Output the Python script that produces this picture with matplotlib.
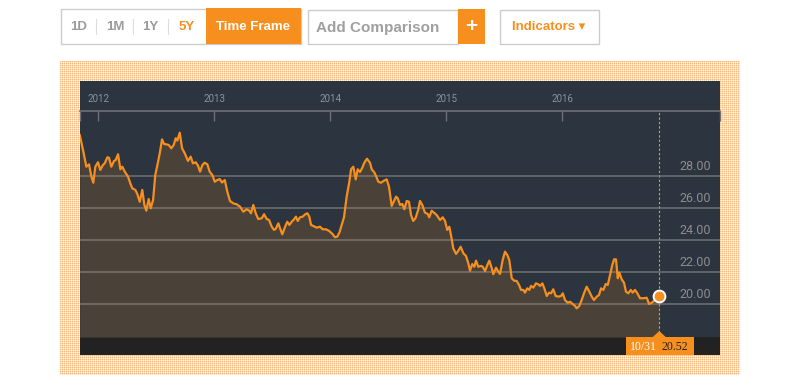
import numpy as np
import matplotlib
matplotlib.use('Agg')
import matplotlib.pyplot as plt
import matplotlib.transforms as mtransforms
from matplotlib.patches import Rectangle, Polygon

# price history (decimal year, price)
years = [
    2011.840, 2011.868, 2011.897, 2011.920, 2011.940, 2011.957, 2011.974, 2011.997,
    2012.017, 2012.040, 2012.055, 2012.078, 2012.092, 2012.112, 2012.135, 2012.150,
    2012.170, 2012.190, 2012.207, 2012.228, 2012.256, 2012.276, 2012.293, 2012.319,
    2012.336, 2012.357, 2012.379, 2012.397, 2012.414, 2012.434, 2012.452, 2012.472,
    2012.491, 2012.515, 2012.532, 2012.549, 2012.567, 2012.586, 2012.607, 2012.629,
    2012.650, 2012.667, 2012.681, 2012.702, 2012.722, 2012.745, 2012.773, 2012.796,
    2012.816, 2012.840, 2012.860, 2012.877, 2012.897, 2012.917, 2012.940, 2012.960,
    2012.983, 2013.004, 2013.026, 2013.047, 2013.066, 2013.090, 2013.112, 2013.135,
    2013.164, 2013.193, 2013.222, 2013.250, 2013.279, 2013.302, 2013.316, 2013.336,
    2013.357, 2013.379, 2013.409, 2013.429, 2013.452, 2013.472, 2013.495, 2013.515,
    2013.529, 2013.552, 2013.567, 2013.586, 2013.610, 2013.629, 2013.647, 2013.667,
    2013.687, 2013.704, 2013.719, 2013.739, 2013.762, 2013.784, 2013.802, 2013.819,
    2013.834, 2013.853, 2013.883, 2013.911, 2013.934, 2013.963, 2013.991, 2014.021,
    2014.040, 2014.060, 2014.078, 2014.098, 2014.118, 2014.141, 2014.164, 2014.179,
    2014.198, 2014.219, 2014.236, 2014.256, 2014.276, 2014.293, 2014.316, 2014.342,
    2014.357, 2014.379, 2014.394, 2014.414, 2014.437, 2014.463, 2014.486, 2014.506,
    2014.529, 2014.567, 2014.581, 2014.601, 2014.621, 2014.638, 2014.659, 2014.678,
    2014.696, 2014.715, 2014.736, 2014.759, 2014.773, 2014.793, 2014.816, 2014.840,
    2014.853, 2014.874, 2014.894, 2014.917, 2014.946, 2014.969, 2014.989, 2015.008,
    2015.026, 2015.047, 2015.060, 2015.084, 2015.104, 2015.124, 2015.147, 2015.170,
    2015.190, 2015.204, 2015.224, 2015.242, 2015.256, 2015.276, 2015.297, 2015.314,
    2015.334, 2015.354, 2015.371, 2015.392, 2015.405, 2015.429, 2015.448, 2015.463,
    2015.486, 2015.506, 2015.526, 2015.543, 2015.564, 2015.584, 2015.607, 2015.627,
    2015.644, 2015.664, 2015.678, 2015.698, 2015.716, 2015.730, 2015.750, 2015.773,
    2015.793, 2015.808, 2015.828, 2015.845, 2015.866, 2015.885, 2015.903, 2015.922,
    2015.943, 2015.966, 2015.989, 2016.004, 2016.023, 2016.047, 2016.066, 2016.090,
    2016.110, 2016.124, 2016.147, 2016.167, 2016.187, 2016.210, 2016.233, 2016.254,
    2016.273, 2016.297, 2016.316, 2016.334, 2016.354, 2016.374, 2016.392, 2016.411,
    2016.431, 2016.446, 2016.463, 2016.478, 2016.492, 2016.512, 2016.532, 2016.549,
    2016.569, 2016.590, 2016.607, 2016.627, 2016.647, 2016.670, 2016.698, 2016.728,
    2016.748, 2016.771, 2016.793, 2016.814, 2016.836,
]
prices = [
    30.56, 29.63, 28.58, 28.73, 27.96, 27.58, 28.58, 28.86,
    28.38, 28.69, 28.79, 29.17, 29.14, 28.58, 28.94, 29.00,
    29.36, 28.42, 28.58, 28.27, 27.96, 27.54, 27.23, 27.13,
    26.88, 26.39, 27.13, 26.19, 25.83, 26.56, 25.98, 26.50,
    28.06, 28.89, 29.52, 30.29, 30.00, 29.98, 29.94, 29.73,
    29.94, 30.36, 30.21, 30.71, 29.73, 29.42, 28.94, 29.21,
    28.79, 28.86, 28.64, 28.27, 28.69, 28.83, 28.73, 28.27,
    28.06, 27.64, 27.75, 27.81, 27.59, 27.75, 27.02, 26.44,
    26.29, 26.23, 26.08, 25.77, 25.92, 25.83, 25.67, 26.19,
    25.67, 25.31, 25.36, 25.61, 25.31, 25.25, 24.83, 24.63,
    24.69, 25.04, 24.73, 24.36, 24.83, 25.14, 24.94, 25.14,
    25.29, 25.46, 25.19, 25.42, 25.46, 25.61, 25.67, 25.46,
    24.94, 24.88, 24.77, 24.83, 24.67, 24.67, 24.56, 24.36,
    24.17, 24.21, 24.46, 24.94, 25.42, 26.71, 27.64, 28.42,
    28.58, 27.79, 28.42, 28.25, 28.52, 28.83, 29.08, 28.83,
    28.42, 28.23, 28.00, 27.64, 27.58, 27.71, 27.79, 27.33,
    26.13, 26.71, 26.61, 26.19, 26.25, 25.92, 26.44, 26.39,
    25.56, 25.19, 25.39, 25.92, 26.44, 26.19, 25.71, 25.63,
    25.42, 25.83, 25.71, 25.56, 25.25, 25.42, 25.19, 24.63,
    24.83, 24.04, 23.48, 23.13, 23.33, 23.58, 23.17, 23.00,
    22.54, 22.08, 22.50, 22.33, 22.71, 22.33, 22.38, 22.33,
    22.06, 22.44, 22.71, 22.23, 21.86, 22.27, 22.02, 21.88,
    22.75, 23.27, 23.06, 22.75, 21.61, 21.46, 21.44, 21.19,
    20.88, 20.88, 20.71, 20.98, 20.88, 21.13, 21.02, 21.29,
    21.23, 21.13, 21.29, 20.98, 20.50, 20.71, 20.67, 20.92,
    20.50, 20.46, 20.50, 20.67, 20.25, 20.08, 20.14, 20.00,
    19.88, 19.73, 19.88, 20.25, 20.67, 21.08, 20.77, 20.46,
    20.25, 20.46, 20.56, 20.98, 20.88, 21.25, 21.19, 21.81,
    22.44, 22.79, 22.79, 21.61, 21.96, 21.54, 21.33, 20.77,
    20.67, 20.88, 20.71, 20.88, 20.67, 20.36, 20.36, 20.39,
    20.00, 20.08, 20.21, 20.29, 20.52,
]
year_ticks = [2012, 2013, 2014, 2015, 2016]
price_ticks = [20, 22, 24, 26, 28]
last_date = '10/31'
ranges = ['1D', '1M', '1Y', '5Y']
active_range = '5Y'

ORANGE = '#f78f1e'
PANEL = '#2b343f'
FILL = '#4a4239'
BAND = '#222222'
UI = ['Liberation Sans', 'DejaVu Sans']

fig = plt.figure(figsize=(8, 3.86), dpi=100)

# background layer in pixel coords
bg = fig.add_axes([0, 0, 1, 1])
bg.axis('off')
h, w = 314, 680
yy, xx = np.mgrid[0:h, 0:w]
pat = np.ones((h, w, 3))
one = (xx % 2 == 0) ^ (yy % 2 == 0)
both = (xx % 2 == 0) & (yy % 2 == 0)
pat[one] = np.array([253, 216, 178]) / 255
pat[both] = np.array([250, 188, 128]) / 255
bg.imshow(pat, extent=(60, 740, 375, 61), interpolation='nearest', aspect='auto')
bg.add_patch(Rectangle((80, 81), 640, 274, color=PANEL, lw=0))
bg.add_patch(Rectangle((80, 337), 640, 18, color=BAND, lw=0))
bg.set_xlim(0, 800)
bg.set_ylim(386, 0)

# header controls
bg.add_patch(Rectangle((60.5, 8.5), 240, 35.5, fill=False, ec='#cccccc', lw=1))
bg.add_patch(Rectangle((206, 8), 95, 36, color=ORANGE, lw=0))
bg.text(253.5, 26.5, 'Time Frame', color='white', fontsize=9.5, fontweight='bold',
        family=UI, ha='center', va='center')
for lab, cx in zip(ranges, [78.5, 115, 150.5, 187]):
    col = ORANGE if lab == active_range else '#9b9b9b'
    bg.text(cx, 26.5, lab, color=col, fontsize=9.5, fontweight='bold', family=UI,
            ha='center', va='center')
for sx in [95.5, 132.5, 167.5]:
    bg.plot([sx, sx], [19, 34], color='#dddddd', lw=0.8)
bg.add_patch(Rectangle((307.5, 9.5), 150, 34.5, fill=False, ec='#cccccc', lw=1))
bg.add_patch(Rectangle((458, 9), 27, 35, color=ORANGE, lw=0))
bg.text(316, 28, 'Add Comparison', color='#a0a0a0', fontsize=11, fontweight='bold',
        family=UI, ha='left', va='center')
bg.text(471.5, 27, '+', color='white', fontsize=15, fontweight='bold', family=UI,
        ha='center', va='center')
bg.add_patch(Rectangle((499.5, 9.5), 99, 34.5, fill=False, ec='#cccccc', lw=1))
bg.text(549, 27, 'Indicators \u25be', color=ORANGE, fontsize=9.5, fontweight='bold',
        family=UI, ha='center', va='center')

# main chart
ax = fig.add_axes([0.1, 49 / 386, 0.8, 226 / 386])
ax.set_facecolor('none')
ax.set_xlim(2011.842, 2017.3595)
ax.set_ylim(17.9375, 32.0625)

ax.fill_between(years, prices, 17.9375, color=FILL, lw=0, zorder=1)
ax.set_yticks(price_ticks)
ax.yaxis.grid(True, color='#8a8580', alpha=0.75, lw=1.1, zorder=2)
ax.set_axisbelow(False)
ax.plot(years, prices, color=ORANGE, lw=1.6, zorder=3, solid_joinstyle='round')

for s in ['left', 'right', 'bottom']:
    ax.spines[s].set_visible(False)
ax.spines['top'].set_color('#6b7078')
ax.spines['top'].set_linewidth(1.2)
ax.tick_params(axis='y', left=False, right=False, labelleft=False)
ax.xaxis.tick_top()
ax.set_xticks(year_ticks)
ax.set_xticks(list(ax.get_xlim()), minor=True)
ax.set_xticklabels([str(y) for y in year_ticks], family=['Roboto', 'DejaVu Sans'],
                   fontsize=7, color='#8d939b')
ax.tick_params(axis='x', which='both', direction='in', length=7.5, width=1,
               color='#6b7078', pad=5, bottom=False)

lab_tr = mtransforms.offset_copy(ax.get_yaxis_transform(), fig=fig, y=7, units='points')
for v in price_ticks:
    ax.text(0.986, v, f'{v:.2f}', transform=lab_tr, ha='right', va='center',
            fontsize=9, color='#8d8d8d', family=['Roboto', 'DejaVu Sans'])

# latest value marker and tooltip
lx, ly = years[-1], prices[-1]
ax.axvline(lx, color='#e2a52a', lw=0.8, ls=(0, (2, 2)), zorder=2)
ax.plot(lx, ly, 'o', ms=8.5, mfc=ORANGE, mec='white', mew=1.4, zorder=5, clip_on=False)

top = fig.add_axes([0, 0, 1, 1], zorder=10)
top.set_facecolor('none')
top.axis('off')
top.set_xlim(0, 800)
top.set_ylim(386, 0)
px = top.transData.inverted().transform(ax.transData.transform((lx, ly)))[0]
top.add_patch(Rectangle((px - 33, 337), 68, 18, color=ORANGE, lw=0))
top.add_patch(Polygon([[px - 7, 337.5], [px, 331], [px + 7, 337.5]], closed=True,
                      color=ORANGE, lw=0))
top.text(px - 16, 346.5, last_date, color='white', fontsize=8.5,
         family=['Liberation Serif', 'DejaVu Serif'], ha='center', va='center')
top.text(px + 16, 346.5, f'{ly:.2f}', color='#222222', fontsize=8.5,
         family=['Liberation Serif', 'DejaVu Serif'], ha='center', va='center')

fig.savefig('out.png', dpi=100)
